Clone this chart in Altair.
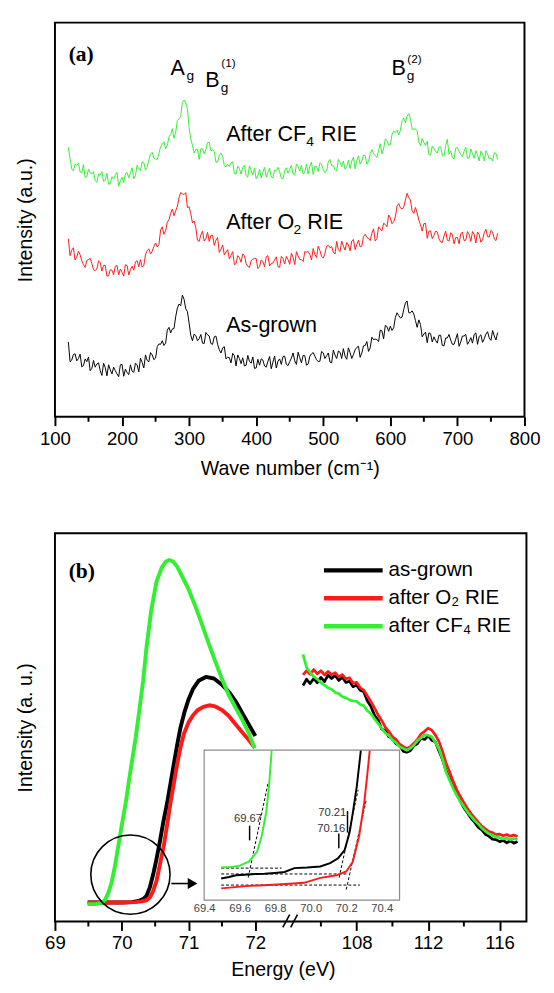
import altair as alt
import pandas as pd

FONT = "Liberation Sans"
SERIF = "Liberation Serif"
SERIES = ["as-grown", "after O₂ RIE", "after CF₄ RIE"]
COLORS = ["#000000", "#ff1a1a", "#33ee33"]

# ---------------- Panel (a): Raman spectra ----------------
WN = list(range(120, 761, 5))
WN_MID = [w + 2.5 for w in WN[:-1]]
A_BLACK = [19.0, 14.4, 16.0, 14.8, 12.7, 14.7, 15.2, 12.3, 12.6, 13.7,
           10.5, 12.5, 13.2, 10.9, 11.7, 10.2, 13.3, 12.1, 10.7, 11.6,
           13.6, 11.4, 13.8, 15.7, 14.0, 15.7, 14.9, 18.5, 19.3, 18.7,
           22.7, 22.3, 25.4, 28.6, 30.9, 27.4, 23.8, 19.3, 20.6, 19.8,
           18.7, 21.4, 20.5, 18.4, 20.5, 17.0, 17.5, 14.7, 15.0, 16.1,
           12.9, 14.8, 15.0, 13.1, 14.1, 15.2, 12.4, 13.1, 14.4, 12.6,
           15.3, 13.9, 12.4, 14.7, 15.3, 13.3, 14.0, 16.2, 13.3, 15.0,
           15.6, 13.1, 15.4, 16.3, 14.5, 14.1, 16.2, 15.5, 13.9, 16.9,
           14.8, 16.4, 17.3, 14.6, 16.3, 15.8, 17.6, 15.1, 18.0, 19.1,
           17.5, 19.6, 19.6, 22.0, 19.8, 22.9, 23.0, 22.6, 26.4, 25.1,
           27.2, 29.4, 26.4, 26.1, 22.7, 23.4, 21.0, 18.8, 21.1, 20.3,
           18.7, 20.7, 18.0, 20.0, 19.5, 18.4, 21.1, 19.0, 20.5, 18.4,
           20.1, 20.9, 18.4, 20.8, 19.8, 21.6, 19.4, 20.5, 21.4]
A_BLACK_MID = [14.0, 15.8, 14.2, 15.9, 13.0, 14.0, 11.7, 14.3, 13.4, 11.7,
               13.6, 10.4, 11.9, 12.6, 10.9, 13.2, 10.3, 11.3, 13.2, 11.3,
               13.2, 14.9, 12.4, 14.3, 16.3, 14.5, 17.8, 18.4, 18.1, 22.0,
               21.3, 22.4, 27.6, 28.2, 29.8, 26.7, 20.7, 21.0, 19.3, 20.9,
               18.6, 20.8, 18.6, 20.3, 18.4, 16.2, 17.8, 15.1, 13.7, 15.5,
               15.7, 13.5, 12.9, 15.6, 13.6, 12.3, 14.6, 14.7, 12.9, 14.1,
               12.2, 15.4, 14.1, 13.3, 15.4, 13.0, 14.9, 14.2, 16.4, 13.7,
               15.5, 13.4, 16.0, 15.4, 14.0, 16.6, 14.8, 16.2, 13.7, 15.7,
               16.7, 14.8, 15.4, 17.5, 14.8, 17.0, 17.9, 16.2, 18.1, 16.6,
               20.2, 19.7, 19.1, 21.8, 23.2, 21.7, 21.9, 25.2, 25.7, 25.3,
               28.9, 26.4, 26.9, 24.4, 24.6, 20.3, 21.5, 21.3, 19.0, 19.4,
               20.7, 18.1, 20.0, 20.9, 18.4, 19.7, 17.9, 20.5, 20.9, 19.1,
               18.7, 21.3, 20.4, 18.9, 21.0, 20.0, 21.9, 19.5]
A_RED = [45.2, 42.3, 39.8, 42.0, 39.6, 37.9, 39.9, 38.9, 37.1, 39.6,
         37.0, 38.4, 35.8, 37.2, 38.2, 36.0, 36.7, 38.6, 36.0, 38.2,
         39.3, 38.1, 38.0, 41.1, 42.6, 42.0, 44.1, 43.7, 48.2, 47.2,
         50.0, 52.7, 52.3, 55.6, 56.6, 56.9, 53.3, 49.2, 48.0, 44.5,
         47.1, 45.2, 44.5, 46.1, 44.8, 41.7, 43.6, 41.8, 40.1, 41.9,
         38.9, 40.4, 41.3, 38.9, 37.9, 40.0, 40.2, 38.1, 39.4, 40.6,
         38.3, 39.0, 40.6, 37.9, 40.2, 40.7, 38.7, 40.5, 41.9, 39.9,
         39.4, 41.8, 41.2, 42.7, 40.4, 42.2, 40.3, 43.3, 42.9, 41.8,
         44.5, 41.9, 43.3, 44.2, 42.1, 45.0, 43.7, 43.1, 45.7, 45.5,
         44.7, 47.7, 45.2, 47.6, 49.1, 48.2, 50.5, 49.5, 53.5, 53.0,
         53.2, 56.7, 55.0, 51.6, 51.7, 48.7, 49.0, 45.3, 47.2, 46.0,
         46.9, 44.4, 45.9, 44.8, 46.7, 43.9, 45.5, 46.4, 44.7, 47.0,
         44.5, 46.3, 46.9, 44.3, 46.7, 45.7, 47.3, 45.1, 46.6]
A_RED_MID = [40.9, 42.9, 40.5, 41.1, 38.6, 39.7, 40.2, 37.3, 37.5, 39.1,
             38.4, 35.7, 37.3, 36.0, 38.4, 37.5, 35.7, 38.4, 37.3, 37.2,
             39.6, 39.9, 38.4, 42.2, 41.3, 43.2, 43.1, 47.4, 46.3, 49.4,
             51.6, 51.0, 53.4, 56.9, 56.4, 53.1, 51.6, 49.7, 44.8, 46.1,
             44.6, 46.8, 46.0, 43.5, 45.5, 42.5, 41.1, 42.4, 41.0, 38.6,
             40.9, 39.2, 40.9, 38.2, 39.6, 40.2, 37.6, 39.8, 38.1, 40.9,
             38.9, 39.8, 38.1, 40.7, 38.8, 39.9, 41.5, 38.6, 40.8, 39.9,
             41.9, 41.9, 39.8, 41.2, 43.3, 40.7, 41.4, 43.5, 43.2, 41.3,
             42.4, 44.6, 42.3, 43.6, 44.6, 42.4, 44.8, 43.3, 46.3, 45.3,
             46.6, 44.6, 48.2, 47.2, 48.8, 51.2, 49.0, 50.7, 54.1, 52.7,
             55.0, 55.6, 52.2, 53.1, 49.9, 47.1, 49.1, 47.1, 45.2, 47.1,
             45.2, 44.2, 47.1, 44.6, 46.2, 45.5, 43.9, 46.9, 44.8, 46.3,
             47.0, 44.1, 46.2, 44.9, 47.6, 45.6, 46.9, 44.7]
A_GREEN = [68.4, 62.9, 64.1, 64.4, 61.9, 60.7, 62.8, 61.6, 59.9, 61.6,
           62.2, 60.0, 59.0, 60.9, 61.4, 58.5, 60.8, 61.7, 60.6, 63.2,
           61.2, 62.9, 64.7, 62.6, 65.2, 67.1, 65.4, 66.8, 69.2, 68.0,
           71.0, 73.1, 72.2, 75.6, 79.8, 79.6, 73.4, 68.9, 67.8, 65.3,
           68.0, 67.8, 69.6, 67.7, 64.6, 66.3, 66.0, 63.4, 63.5, 64.7,
           61.6, 63.0, 63.3, 61.2, 63.7, 61.3, 60.4, 62.8, 62.0, 60.8,
           63.1, 60.6, 62.5, 62.2, 60.4, 63.2, 62.8, 61.6, 64.1, 62.3,
           61.6, 64.1, 63.6, 61.5, 63.5, 64.4, 62.7, 62.4, 65.3, 63.7,
           62.3, 64.6, 64.9, 63.5, 63.0, 65.9, 65.0, 64.1, 66.4, 64.1,
           66.8, 66.8, 65.8, 69.3, 68.0, 70.1, 69.0, 72.5, 72.7, 72.7,
           75.8, 76.3, 75.6, 73.0, 72.6, 68.8, 69.6, 69.9, 66.4, 68.0,
           66.9, 68.5, 66.1, 70.4, 67.4, 65.4, 68.3, 66.5, 67.4, 65.6,
           68.0, 65.6, 66.5, 67.4, 64.9, 66.7, 65.7, 67.0, 65.3]
A_GREEN_MID = [65.5, 62.4, 63.8, 62.1, 64.0, 60.9, 61.9, 62.2, 59.5, 61.3,
               59.7, 61.8, 59.1, 60.3, 62.0, 59.9, 59.4, 62.0, 61.9, 60.4,
               63.8, 62.5, 64.5, 63.3, 66.6, 65.6, 65.3, 68.5, 69.8, 68.9,
               71.6, 70.7, 75.2, 76.2, 80.4, 78.2, 70.5, 66.9, 67.9, 68.0,
               66.7, 69.6, 67.5, 67.3, 64.6, 66.9, 63.7, 64.1, 64.4, 61.7,
               63.6, 61.6, 63.8, 60.8, 62.4, 63.1, 61.2, 60.6, 63.3, 62.0,
               60.8, 62.6, 63.3, 60.5, 62.4, 61.8, 63.8, 61.3, 63.5, 63.8,
               62.1, 61.6, 64.6, 63.6, 62.2, 64.1, 61.9, 64.7, 63.7, 62.8,
               65.3, 63.5, 62.8, 65.1, 64.9, 62.9, 66.2, 64.9, 66.3, 64.8,
               67.8, 66.3, 67.6, 66.7, 70.5, 68.9, 71.6, 72.1, 71.5, 75.1,
               74.6, 76.9, 72.9, 73.0, 69.7, 70.6, 68.8, 66.5, 68.7, 67.4,
               68.4, 66.3, 68.8, 66.6, 65.8, 68.2, 67.4, 66.0, 68.4, 65.6,
               66.7, 67.5, 64.9, 66.8, 67.5, 65.4, 64.9, 66.8]
A_TICKS = [100, 200, 300, 400, 500, 600, 700, 800]
A_MINOR = [150, 250, 350, 450, 550, 650, 750]

A_TEXT = ["A", "g", "B", "g", "(1)", "B", "g", "(2)",
          "After CF", "4", "RIE", "After O", "2", "RIE", "As-grown"]
A_TX = [272.1, 296.0, 323.9, 347.0, 348.0, 601.7, 624.5, 625.3,
        355.2, 474.8, 496.7, 355.2, 455.8, 476.3, 355.2]
A_TY = [86.6, 85.4, 83.6, 82.4, 88.8, 86.7, 85.4, 89.8,
        70.0, 68.7, 70.0, 47.6, 46.4, 47.6, 21.6]
A_TS = [22, 14, 22, 14, 12, 22, 14, 12, 22, 14, 22, 22, 14, 22, 22]

# ---------------- Panel (b): XPS ----------------
BL_GREEN_X = [69.49, 69.6, 69.7, 69.75, 69.8, 69.85, 69.9, 69.95, 70.0, 70.06,
              70.11, 70.16, 70.21, 70.26, 70.32, 70.37, 70.44, 70.52, 70.6, 70.66,
              70.71, 70.77, 70.83, 70.9, 71.0, 71.1, 71.2, 71.3, 71.4, 71.5,
              71.6, 71.71, 71.8, 71.9, 71.99]
BL_GREEN_Y = [4.5, 4.5, 4.8, 5.6, 7.4, 10.2, 14.5, 19.6, 24.8, 30.6,
              36.5, 42.0, 47.5, 54.0, 62.0, 70.5, 80.0, 87.5, 91.2, 92.7,
              93.1, 92.7, 91.4, 89.0, 85.6, 81.3, 76.6, 71.7, 67.0, 62.5,
              58.4, 54.9, 52.1, 48.6, 44.6]
BL_BLACK_X = [69.49, 69.8, 70.0, 70.15, 70.25, 70.32, 70.37, 70.42, 70.47, 70.52,
              70.57, 70.62, 70.68, 70.73, 70.78, 70.83, 70.88, 70.94, 71.0, 71.07,
              71.15, 71.26, 71.38, 71.5, 71.61, 71.72, 71.82, 71.91, 72.0]
BL_BLACK_Y = [4.9, 4.9, 4.9, 5.0, 5.3, 5.8, 6.6, 8.8, 12.1, 16.1,
              20.5, 25.4, 30.6, 35.6, 40.6, 45.5, 50.0, 54.0, 57.2, 60.0,
              62.0, 63.0, 62.6, 61.0, 59.0, 56.3, 53.2, 50.5, 47.8]
BL_RED_X = [69.49, 69.8, 70.0, 70.2, 70.3, 70.37, 70.42, 70.47, 70.52, 70.57,
            70.63, 70.68, 70.73, 70.78, 70.83, 70.88, 70.93, 71.0, 71.07, 71.14,
            71.22, 71.31, 71.4, 71.5, 71.6, 71.71, 71.8, 71.9, 71.99]
BL_RED_Y = [4.9, 4.9, 4.9, 5.0, 5.2, 5.5, 6.2, 7.9, 10.4, 14.6,
            19.6, 25.0, 30.6, 35.6, 40.6, 44.9, 48.3, 51.3, 53.2, 54.5,
            55.3, 55.7, 55.4, 54.5, 53.0, 50.7, 48.8, 46.8, 44.8]

BR_X = [105.0, 105.2, 105.4, 105.6, 105.8, 106.0, 106.2, 106.4, 106.6, 106.8,
        107.0, 107.2, 107.4, 107.6, 107.8, 108.0, 108.2, 108.4, 108.6, 108.8,
        109.0, 109.2, 109.4, 109.6, 109.8, 110.0, 110.2, 110.4, 110.6, 110.8,
        111.0, 111.2, 111.4, 111.6, 111.8, 112.0, 112.2, 112.4, 112.6, 112.8,
        113.0, 113.2, 113.4, 113.6, 113.8, 114.0, 114.2, 114.4, 114.6, 114.8,
        115.0, 115.2, 115.4, 115.6, 115.8, 116.0, 116.2, 116.4, 116.6, 116.8, 117.0]
BR_BLACK = [60.8, 62.4, 61.3, 62.6, 61.5, 62.9, 61.8, 63.5, 62.6, 63.4,
            62.1, 62.9, 61.6, 61.9, 60.5, 60.9, 59.6, 59.2, 56.8, 55.4,
            53.1, 51.9, 49.6, 49.2, 47.6, 47.3, 45.8, 45.4, 43.9, 43.6,
            44.0, 45.3, 45.8, 47.2, 46.9, 47.8, 46.7, 46.3, 44.0, 41.8,
            38.9, 36.8, 34.9, 32.8, 31.0, 29.3, 28.0, 26.6, 25.6, 24.3,
            23.6, 22.5, 22.0, 21.2, 21.1, 20.6, 20.9, 20.3, 20.8, 20.2, 20.6]
BR_RED = [63.5, 64.6, 63.7, 64.9, 63.8, 64.6, 63.5, 64.4, 63.6, 64.1,
          63.0, 63.6, 62.5, 62.8, 61.4, 61.6, 60.2, 59.6, 58.1, 56.6,
          55.0, 53.2, 51.8, 50.1, 49.0, 47.6, 46.9, 45.7, 45.1, 44.6,
          45.0, 45.9, 46.9, 48.3, 49.0, 49.8, 49.3, 48.1, 46.4, 43.9,
          40.8, 38.6, 36.1, 34.0, 32.2, 30.6, 29.1, 27.8, 26.7, 25.6,
          24.6, 23.9, 23.2, 22.9, 22.4, 22.5, 22.1, 22.4, 22.0, 22.3, 21.9]
BR_GREEN = [68.8, 65.4, 64.2, 63.1, 62.4, 61.5, 60.9, 60.2, 59.8, 59.0,
            58.7, 57.9, 57.6, 57.1, 56.8, 56.7, 55.9, 55.6, 54.3, 53.5,
            52.2, 51.0, 49.8, 48.6, 47.9, 46.8, 46.1, 45.0, 44.6, 44.1,
            44.6, 45.4, 46.6, 47.3, 48.1, 48.0, 47.6, 46.2, 44.5, 41.9,
            38.6, 36.4, 34.3, 32.5, 30.9, 29.6, 28.2, 27.1, 26.0, 25.1,
            24.1, 23.3, 22.6, 22.2, 21.8, 21.6, 21.3, 21.5, 21.1, 21.4, 21.2]

BL_TICKS = [69, 70, 71, 72]
BL_MINOR = [69.5, 70.5, 71.5]
BR_TICKS = [108, 112, 116]
BR_MINOR = [106, 110, 114]

# inset
IN_GREEN_X = [69.496, 69.55, 69.597, 69.652, 69.698, 69.725, 69.749, 69.765, 69.78]
IN_GREEN_Y = [21.7, 22.1, 22.8, 25.6, 32.2, 43.1, 58.3, 75.7, 99.6]
IN_BLACK_X = [69.496, 69.54, 69.579, 69.63, 69.688, 69.74, 69.798, 69.853, 69.908,
              69.98, 70.054, 70.109, 70.154, 70.191, 70.219, 70.237, 70.259, 70.282]
IN_BLACK_Y = [14.4, 15.4, 16.5, 16.9, 17.4, 17.6, 18.1, 18.7, 21.3,
              21.7, 22.4, 24.6, 27.9, 33.3, 45.2, 58.3, 75.7, 99.6]
IN_RED_X = [69.496, 69.634, 69.816, 69.962, 70.054, 70.145, 70.2, 70.237, 70.273,
            70.301, 70.319, 70.332]
IN_RED_Y = [7.8, 9.3, 10.4, 11.5, 14.8, 16.5, 19.1, 25.6, 43.1, 64.8, 84.3, 99.6]
IN_TICKS = [69.4, 69.6, 69.8, 70.0, 70.2, 70.4]
DASH_X1 = [69.496, 69.496, 69.496, 69.648, 70.16, 70.2]
DASH_X2 = [69.836, 70.203, 70.277, 69.76, 70.267, 70.313]
DASH_Y1 = [21.3, 17.4, 10.0, 15.0, 15.0, 7.0]
DASH_Y2 = [21.3, 17.4, 10.0, 78.0, 73.5, 67.0]
MARK_X = [69.656, 70.207, 70.158]
MARK_Y1 = [49.6, 59.4, 44.4]
MARK_Y2 = [39.8, 45.0, 34.6]
MARK_TEXT = ["69.67", "70.21", "70.16"]
MARK_TX = [69.726, 70.2, 70.195]
MARK_TY = [54.3, 57.9, 47.4]

# ---------------- build tables ----------------
def long_df(pairs):
    rows = []
    for name, xs, ys in pairs:
        for xv, yv in zip(xs, ys):
            rows.append({"x": xv, "y": yv, "series": name})
    return pd.DataFrame(rows)

dfA = long_df([(SERIES[0], WN, A_BLACK), (SERIES[0], WN_MID, A_BLACK_MID),
               (SERIES[1], WN, A_RED), (SERIES[1], WN_MID, A_RED_MID),
               (SERIES[2], WN, A_GREEN), (SERIES[2], WN_MID, A_GREEN_MID)])
dfTA = pd.DataFrame({"x": A_TX, "y": A_TY, "t": A_TEXT, "s": A_TS})
dfBL = long_df([(SERIES[0], BL_BLACK_X, BL_BLACK_Y), (SERIES[1], BL_RED_X, BL_RED_Y),
                (SERIES[2], BL_GREEN_X, BL_GREEN_Y)])
dfBR = long_df([(SERIES[0], BR_X, BR_BLACK), (SERIES[1], BR_X, BR_RED), (SERIES[2], BR_X, BR_GREEN)])
dfIN = long_df([(SERIES[0], IN_BLACK_X, IN_BLACK_Y), (SERIES[1], IN_RED_X, IN_RED_Y),
                (SERIES[2], IN_GREEN_X, IN_GREEN_Y)])

W_A, H_A = 480, 403
W_B, H_B = 482, 397

# ---------------- Panel (a) ----------------
xA = alt.Scale(domain=[100, 800], nice=False, zero=False)
yA = alt.Scale(domain=[0, 100], nice=False, zero=False)
colA = alt.Color("series:N", scale=alt.Scale(domain=SERIES, range=COLORS), legend=None)

linesA = alt.Chart(dfA).mark_line(strokeWidth=1.0).encode(
    x=alt.X("x:Q", scale=xA, axis=alt.Axis(values=A_TICKS, title="Wave number (cm⁻¹)",
                                           tickSize=9, labelPadding=4, titlePadding=11)),
    y=alt.Y("y:Q", scale=yA, axis=alt.Axis(labels=False, ticks=False, title="Intensity (a.u.)",
                                           titlePadding=20)),
    color=colA,
)
minorA = alt.Chart(pd.DataFrame({"x": A_MINOR})).mark_rule(strokeWidth=2, color="black").encode(
    x="x:Q", y=alt.value(H_A), y2=alt.value(H_A + 5))
textsA = alt.Chart(dfTA).mark_text(align="left", baseline="alphabetic", font=FONT, color="black").encode(
    x="x:Q", y="y:Q", text="t:N", size=alt.Size("s:Q", scale=None))
labelA = alt.Chart(pd.DataFrame({"x": [120.4], "y": [90.3], "t": ["(a)"]})).mark_text(
    align="left", baseline="alphabetic", font=SERIF, fontWeight="bold", fontSize=22, color="black").encode(
    x="x:Q", y="y:Q", text="t:N")

panelA = alt.layer(linesA, minorA, textsA, labelA).properties(width=W_A, height=H_A)

# ---------------- Panel (b) ----------------
xL = alt.Scale(domain=[69, 72.5], range=[0, 239], nice=False, zero=False)
xR = alt.Scale(domain=[104.2, 117.5], range=[239, 482], nice=False, zero=False)
yB = alt.Scale(domain=[0, 100], nice=False, zero=False)
xI = alt.Scale(domain=[69.4, 70.5], range=[152.5, 352.3], nice=False, zero=False)
yI = alt.Scale(domain=[0, 100], range=[375, 221.7], nice=False, zero=False)

colB = alt.Color("series:N", scale=alt.Scale(domain=SERIES, range=COLORS), legend=None)

linesL = alt.Chart(dfBL).mark_line(strokeWidth=4, strokeJoin="round").encode(
    x=alt.X("x:Q", scale=xL, axis=alt.Axis(values=BL_TICKS, format="d", orient="bottom", tickSize=9,
                                           labelPadding=4, title="Energy (eV)", titlePadding=7,
                                           titleX=233)),
    y=alt.Y("y:Q", scale=yB, axis=alt.Axis(labels=False, ticks=False, title="Intensity (a. u.)",
                                           titlePadding=20)),
    color=colB,
)
minorL = alt.Chart(pd.DataFrame({"x": BL_MINOR})).mark_rule(strokeWidth=2, color="black").encode(
    x="x:Q", y=alt.value(H_B), y2=alt.value(H_B + 5))
circle = alt.Chart(pd.DataFrame({"x": [70.13], "y": [12.1]})).mark_point(
    shape="circle", size=6561, filled=False, color="black", strokeWidth=1.6, opacity=1).encode(
    x="x:Q", y="y:Q")
arrowLine = alt.Chart(pd.DataFrame({"x": [70.742], "x2": [71.02], "y": [9.8]})).mark_rule(
    color="black", strokeWidth=1.6).encode(x="x:Q", x2="x2:Q", y="y:Q")
arrowHead = alt.Chart(pd.DataFrame({"x": [71.06], "y": [9.8]})).mark_point(
    shape="triangle-right", size=130, filled=True, color="black", opacity=1).encode(
    x="x:Q", y="y:Q")
breaks = alt.Chart(pd.DataFrame({"x": [72.411, 72.529], "x2": [72.514, 72.631],
                                 "y": [-1.5, -1.5], "y2": [1.8, 1.8]})).mark_rule(
    color="black", strokeWidth=1.6).encode(x="x:Q", x2="x2:Q", y="y:Q", y2="y2:Q")
labelB = alt.Chart(pd.DataFrame({"x": [69.205], "y": [88.4], "t": ["(b)"]})).mark_text(
    align="left", baseline="alphabetic", font=SERIF, fontWeight="bold", fontSize=22, color="black").encode(
    x="x:Q", y="y:Q", text="t:N")
layerLeft = alt.layer(linesL, minorL, circle, arrowLine, arrowHead, breaks, labelB)

linesR = alt.Chart(dfBR).mark_line(strokeWidth=2.8, strokeJoin="round").encode(
    x=alt.X("x:Q", scale=xR, axis=alt.Axis(values=BR_TICKS, orient="bottom", tickSize=9,
                                           labelPadding=4, title=None)),
    y=alt.Y("y:Q", scale=yB, axis=None),
    color=colB,
)
minorR = alt.Chart(pd.DataFrame({"x": BR_MINOR})).mark_rule(strokeWidth=2, color="black").encode(
    x="x:Q", y=alt.value(H_B), y2=alt.value(H_B + 5))
layerRight = alt.layer(linesR, minorR)

box = alt.Chart(pd.DataFrame({"x": [69.4], "x2": [70.5], "y": [0], "y2": [100]})).mark_rect(
    fill="white", stroke="#8a8a8a", strokeWidth=1.2).encode(
    x=alt.X("x:Q", scale=xI, axis=alt.Axis(values=IN_TICKS, format=".1f", orient="bottom",
                                           offset=-(H_B - 375), ticks=False, labelFontSize=11.5,
                                           labelColor="#444", labelPadding=3, title=None)),
    x2="x2:Q",
    y=alt.Y("y:Q", scale=yI, axis=None), y2="y2:Q")
dashes = alt.Chart(pd.DataFrame({"x": DASH_X1, "x2": DASH_X2, "y": DASH_Y1, "y2": DASH_Y2})).mark_rule(
    color="black", strokeWidth=1, strokeDash=[3, 2]).encode(x="x:Q", x2="x2:Q", y="y:Q", y2="y2:Q")
markers = alt.Chart(pd.DataFrame({"x": MARK_X, "y": MARK_Y1, "y2": MARK_Y2})).mark_rule(
    color="black", strokeWidth=1.5).encode(x="x:Q", y="y:Q", y2="y2:Q")
insetLines = alt.Chart(dfIN).mark_line(strokeWidth=2).encode(x="x:Q", y="y:Q", color=colB)
insetTexts = alt.Chart(pd.DataFrame({"x": MARK_TX, "y": MARK_TY, "t": MARK_TEXT})).mark_text(
    align="right", baseline="middle", font=FONT, fontSize=11.5, color="#333").encode(
    x="x:Q", y="y:Q", text="t:N")
layerInset = alt.layer(box, dashes, insetLines, markers, insetTexts)

# legend drawn from the series list
legDF = pd.DataFrame({"series": SERIES})
legY = alt.Y("series:N", scale=alt.Scale(type="point", domain=SERIES, range=[38, 95], padding=0), axis=None)
legLines = alt.Chart(legDF).mark_rule(strokeWidth=4.5).encode(
    x=alt.value(275), x2=alt.value(335), y=legY, color=colB)
legText = alt.Chart(legDF).mark_text(align="left", baseline="middle", font=FONT, fontSize=21,
                                     color="black").encode(
    x=alt.value(341), y=alt.Y("series:N", axis=None), text="series:N")
layerLegend = alt.layer(legLines, legText)

panelB = alt.layer(layerLeft, layerRight, layerInset, layerLegend).resolve_scale(
    x="independent", y="independent").properties(width=W_B, height=H_B)

chart = alt.vconcat(panelA, panelB, spacing=54).resolve_scale(color="independent").resolve_legend(
    color="independent").configure(
    font=FONT, padding={"left": 7, "top": 3, "right": 5, "bottom": 0}
).configure_view(stroke="black", strokeWidth=2).configure_axis(
    labelFont=FONT, labelFontSize=19, labelColor="black", titleFont=FONT, titleFontSize=20,
    titleFontWeight="normal", titleColor="black", tickColor="black", tickWidth=2, grid=False,
    domain=False, labelFlush=False, labelOverlap=False)

chart.save("out.html", embed_options={"renderer": "svg", "actions": False})
